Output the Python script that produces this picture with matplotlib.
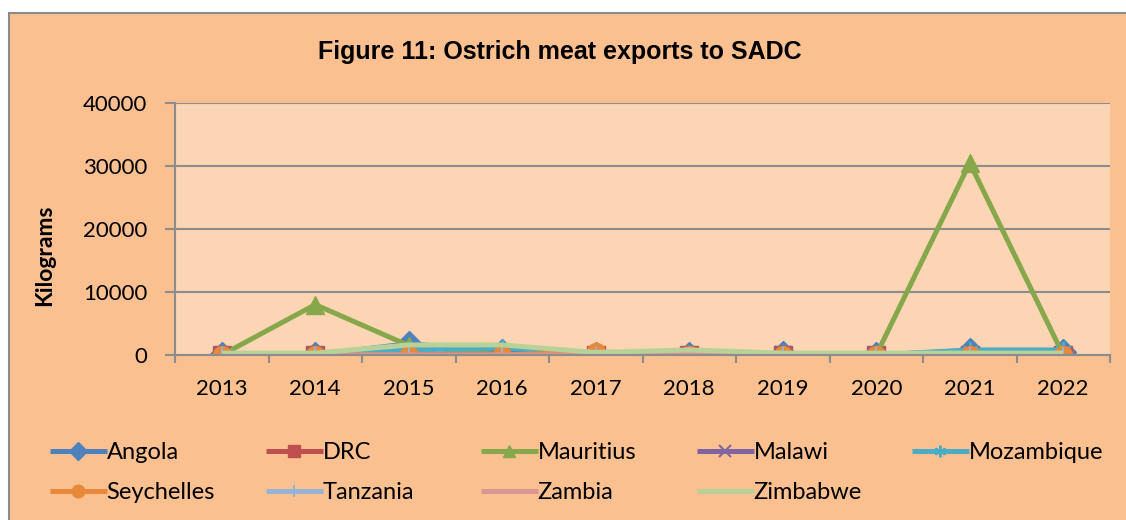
import matplotlib
matplotlib.use("Agg")
import matplotlib.pyplot as plt
from matplotlib.patches import Rectangle

years = ["2013", "2014", "2015", "2016", "2017", "2018", "2019", "2020", "2021", "2022"]
angola = [0, 0, 1800, 500, 0, 0, 200, 0, 700, 500]
drc = [0, 0, 0, 100, 0, 0, 0, 0, 0, 0]
mauritius = [0, 8000, 1500, 0, 0, 0, 0, 0, 30500, 0]
malawi = [0, 0, 0, 0, 0, 0, 200, 0, 0, 0]
mozambique = [0, 0, 800, 1100, 300, 0, 0, 0, 800, 800]
seychelles = [0, 0, 0, 0, 500, 0, 0, 0, 0, 0]
tanzania = [0, 0, 0, 0, 0, 0, 0, 0, 0, 0]
zambia = [0, 0, 0, 0, 0, 200, 0, 0, 0, 0]
zimbabwe = [300, 300, 1600, 1600, 400, 800, 300, 300, 300, 300]

series = [
    ("Angola", angola, "#4F81BD", "D"),
    ("DRC", drc, "#C0504D", "s"),
    ("Mauritius", mauritius, "#86A84A", "^"),
    ("Malawi", malawi, "#8064A2", "x"),
    ("Mozambique", mozambique, "#4BACC6", (6, 2, 0)),
    ("Seychelles", seychelles, "#E8883A", "o"),
    ("Tanzania", tanzania, "#95B3D7", "|"),
    ("Zambia", zambia, "#D99694", None),
    ("Zimbabwe", zimbabwe, "#B8D198", None),
]

W, H = 1126, 520
FONT = ["Lato", "DejaVu Sans"]
fig = plt.figure(figsize=(W / 100, H / 100), dpi=100)
fig.patch.set_facecolor("white")
fig.patches.append(Rectangle((9 / W, -0.02), 1.05, 1 - 13 / H + 0.02,
                             transform=fig.transFigure, facecolor="#FAC090",
                             edgecolor="#8C8C8C", linewidth=1.5, zorder=-10))

ax = fig.add_axes([175 / W, 1 - 355 / H, (1110 - 175) / W, (355 - 103) / H])
ax.set_facecolor("#FCD5B5")
x = list(range(len(years)))
handles = []
for name, vals, col, mk in series:
    kw = dict(color=col, linewidth=3.6, label=name, solid_capstyle="butt")
    if mk is not None:
        if mk in ("x", "|", (6, 2, 0)):
            kw.update(marker=mk, markersize=12, markeredgewidth=1.5,
                      markeredgecolor=col)
        else:
            kw.update(marker=mk, markersize=13, markerfacecolor=col,
                      markeredgecolor=col)
    h, = ax.plot(x, vals, **kw)
    handles.append(h)

ax.set_xlim(-0.5, len(years) - 0.5)
ax.set_ylim(0, 40000)
ax.set_yticks([0, 10000, 20000, 30000, 40000])
ax.set_yticklabels(["0", "10000", "20000", "30000", "40000"])
ax.set_xticks(x)
ax.set_xticklabels(years)
ax.set_xticks([i - 0.5 for i in range(len(years) + 1)], minor=True)
ax.tick_params(axis="x", which="major", length=0, pad=17, labelsize=16)
ax.tick_params(axis="x", which="minor", length=6, width=1.5, color="#8C8C8C", direction="out")
ax.tick_params(axis="y", length=7, width=1.5, color="#8C8C8C", labelsize=16, pad=13)
for lab in ax.get_xticklabels() + ax.get_yticklabels():
    lab.set_fontfamily(FONT)
ax.grid(axis="y", color="#8C8C8C", linewidth=1.5)
ax.set_axisbelow(True)
for s in ["top", "right"]:
    ax.spines[s].set_visible(False)
for s in ["left", "bottom"]:
    ax.spines[s].set_color("#8C8C8C")
    ax.spines[s].set_linewidth(1.5)

fig.text(0.497, 1 - 52 / H, "Figure 11: Ostrich meat exports to SADC",
         ha="center", va="center", fontsize=18, fontweight="bold",
         family=["Liberation Sans Narrow", "Liberation Sans", "DejaVu Sans"])
fig.text(45 / W, 1 - 255 / H, "Kilograms", rotation=90, ha="center", va="center",
         fontsize=16.5, fontweight="bold", family=FONT)

col_x = [50, 266, 481, 697, 912]
for c in range(5):
    idx = [c] + ([c + 5] if c + 5 < len(handles) else [])
    hs = [handles[i] for i in idx]
    fig.legend(hs, [h.get_label() for h in hs], loc="upper left",
               bbox_to_anchor=(col_x[c] / W, 1 - 442 / H), frameon=False,
               prop={"family": FONT, "size": 17},
               handlelength=2.4, handletextpad=0.0, borderpad=0,
               borderaxespad=0, labelspacing=0.8, markerscale=0.7)

fig.savefig("out.png", dpi=100, facecolor=fig.get_facecolor())
